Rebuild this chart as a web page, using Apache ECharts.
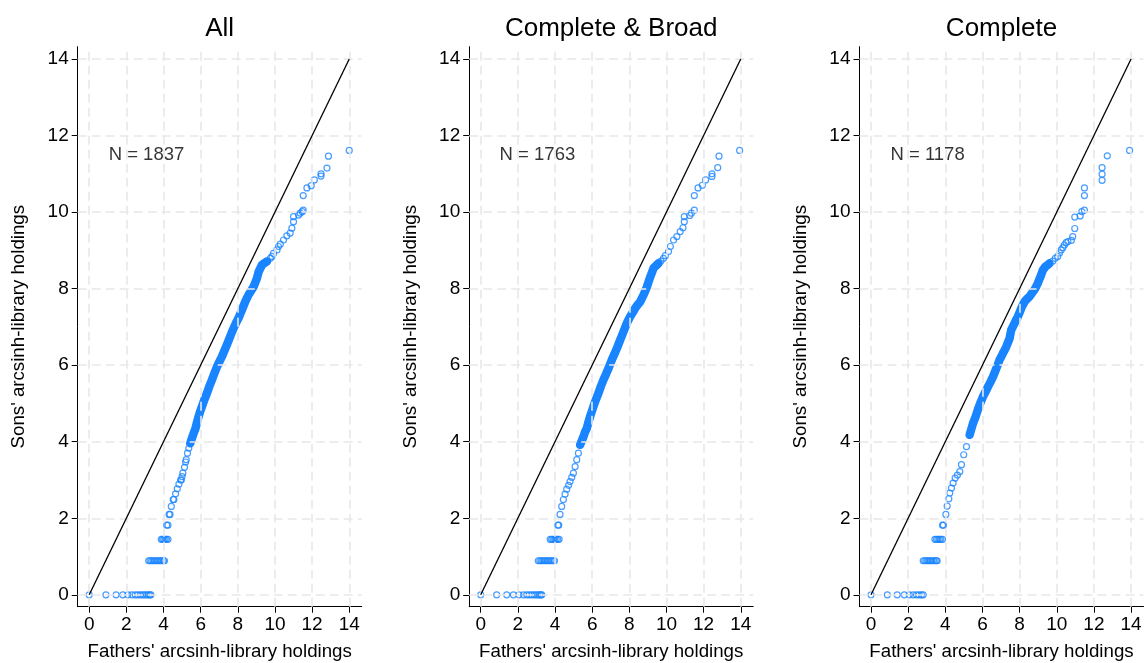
<!DOCTYPE html>
<html>
<head>
<meta charset="utf-8">
<script src="https://cdn.jsdelivr.net/npm/echarts@6/dist/echarts.min.js"></script>
<style>
html,body{margin:0;padding:0;background:#fff;}
#chart{width:1145px;height:663px;}
</style>
</head>
<body>
<div id="chart"></div>
<script>
// ---------- data ----------
const titles = ["All", "Complete & Broad", "Complete"];
const sampleSizes = [1837, 1763, 1178];
const tickValues = [0, 2, 4, 6, 8, 10, 12, 14];
const xTitle = "Fathers' arcsinh-library holdings";
const yTitle = "Sons' arcsinh-library holdings";
const refLine = [[0, 0], [14, 14]];

// Panel 1: All
const allFathers = [0,0.9,1.45,1.81,2.08,2.3,2.48,2.62,2.75,2.87,2.98,3.09,3.19,3.27,3.32,
  3.2,3.28,3.36,3.44,3.52,3.6,3.68,3.76,3.84,3.92,4.0,4.05,
  3.88,3.95,4.02,4.09,4.16,4.24,
  4.17,4.24,4.3,4.35,4.42,4.52,4.56,4.65,4.74,4.83,4.92,4.96,5.0,5.04,5.13,5.19,5.22,5.29,
  5.36,5.44,5.53,5.62,5.71,5.80,5.89,5.98,6.07,6.20,6.34,6.47,6.61,6.75,6.88,7.01,7.14,7.28,7.41,7.50,
  7.59,7.68,7.77,7.90,8.04,8.13,8.22,8.31,8.40,8.49,8.58,8.71,8.85,8.94,9.03,9.12,9.21,9.30,9.44,9.57,
  9.75,9.84,9.92,10.11,10.19,10.29,10.46,10.64,10.82,10.91,11.0,11.0,11.27,11.36,11.47,11.52,11.52,
  11.72,11.95,12.12,12.48,12.48,12.8,12.88,14.0];
const allSons = [0,0,0,0,0,0,0,0,0,0,0,0,0,0,0,
  0.89,0.89,0.89,0.89,0.89,0.89,0.89,0.89,0.89,0.89,0.89,0.89,
  1.45,1.45,1.45,1.45,1.45,1.45,
  1.82,1.82,2.10,2.10,2.31,2.49,2.49,2.64,2.77,2.89,3.0,3.0,3.09,3.18,3.33,3.47,3.53,3.70,
  3.83,3.96,4.09,4.22,4.33,4.50,4.66,4.80,4.92,5.10,5.27,5.45,5.62,5.80,5.96,6.09,6.22,6.38,6.53,6.64,
  6.75,6.86,6.96,7.10,7.23,7.34,7.44,7.55,7.66,7.75,7.84,7.94,8.05,8.16,8.27,8.44,8.53,8.62,8.67,8.71,
  8.79,8.84,8.92,9.01,9.10,9.16,9.27,9.38,9.45,9.58,9.75,9.88,9.92,9.97,10.01,10.05,10.43,
  10.63,10.69,10.84,10.94,11.0,11.15,11.46,11.61];

// Panel 2: Complete & Broad
const broadFathers = [0,0.86,1.40,1.76,2.06,2.30,2.48,2.62,2.75,2.87,2.98,3.08,3.17,3.24,3.29,
  3.1,3.18,3.26,3.34,3.42,3.5,3.58,3.66,3.74,3.82,3.9,3.97,
  3.74,3.82,3.9,3.98,4.06,4.14,4.22,
  4.15,4.2,4.27,4.36,4.45,4.54,4.63,4.73,4.81,4.90,4.99,5.08,5.17,5.26,5.35,5.53,
  5.62,5.71,5.80,5.89,5.98,6.07,6.20,6.34,6.47,6.61,6.75,6.88,6.97,7.06,7.20,7.33,7.42,7.51,7.60,7.69,
  7.78,7.87,7.96,8.05,8.19,8.32,8.45,8.59,8.68,8.77,8.86,8.95,9.04,9.13,9.22,9.30,9.44,9.57,9.70,9.84,
  9.94,10.11,10.21,10.38,10.56,10.74,10.89,10.96,10.96,11.25,11.34,11.50,11.50,11.70,11.93,12.11,
  12.45,12.45,12.76,12.83,13.94];
const broadSons = [0,0,0,0,0,0,0,0,0,0,0,0,0,0,0,
  0.89,0.89,0.89,0.89,0.89,0.89,0.89,0.89,0.89,0.89,0.89,0.89,
  1.45,1.45,1.45,1.45,1.45,1.45,1.45,
  1.82,1.82,2.10,2.31,2.49,2.63,2.76,2.86,2.96,3.07,3.18,3.35,3.53,3.70,3.92,4.13,
  4.26,4.35,4.51,4.66,4.79,4.92,5.10,5.27,5.45,5.62,5.77,5.92,6.03,6.14,6.29,6.44,6.55,6.66,6.77,6.88,
  6.99,7.10,7.19,7.27,7.38,7.49,7.58,7.66,7.75,7.84,7.94,8.05,8.18,8.31,8.42,8.53,8.60,8.66,8.72,8.79,
  8.86,8.97,9.10,9.27,9.36,9.49,9.59,9.75,9.88,9.91,9.97,10.05,10.43,10.63,10.70,10.84,
  10.93,11.0,11.16,11.46,11.61];

// Panel 3: Complete
const completeFathers = [0,0.88,1.41,1.79,2.06,2.27,2.45,2.59,2.72,2.81,
  2.81,2.89,2.97,3.05,3.13,3.21,3.29,3.37,3.45,3.52,3.56,
  3.44,3.52,3.6,3.68,3.76,3.85,
  3.85,3.9,4.03,4.10,4.19,4.24,4.33,4.42,4.53,4.65,4.78,4.87,4.99,5.14,5.31,5.49,
  5.62,5.76,5.90,6.03,6.17,6.30,6.44,6.57,6.66,6.75,6.84,6.92,7.01,7.10,7.19,7.28,7.37,7.46,7.50,7.55,
  7.64,7.73,7.82,7.91,8.00,8.09,8.18,8.27,8.40,8.53,8.66,8.80,8.89,8.98,9.07,9.16,9.25,9.38,9.52,9.61,
  9.79,9.92,10.05,10.15,10.24,10.33,10.41,10.50,10.60,10.78,10.86,10.97,10.97,11.26,11.35,11.49,
  11.49,11.49,12.44,12.44,12.44,12.72,13.92];
const completeSons = [0,0,0,0,0,0,0,0,0,0,
  0.89,0.89,0.89,0.89,0.89,0.89,0.89,0.89,0.89,0.89,0.89,
  1.45,1.45,1.45,1.45,1.45,1.45,
  1.82,1.82,2.10,2.32,2.51,2.66,2.79,2.92,3.05,3.13,3.22,3.40,3.66,3.87,4.18,4.48,
  4.64,4.85,5.03,5.18,5.31,5.44,5.57,5.70,5.81,5.92,6.03,6.14,6.22,6.31,6.39,6.48,6.59,6.70,6.80,6.92,
  7.01,7.10,7.19,7.27,7.38,7.49,7.58,7.66,7.73,7.79,7.88,7.97,8.05,8.14,8.25,8.36,8.48,8.57,8.62,8.66,
  8.72,8.79,8.84,8.93,9.01,9.07,9.14,9.20,9.23,9.26,9.36,9.57,9.87,9.90,10.01,10.05,
  10.43,10.63,10.83,10.99,11.16,11.47,11.61];

// sons' range (per panel) where markers merge into a solid band
const bandLow = [3.9, 3.9, 4.15];
const bandHigh = [8.72, 8.66, 8.7];
// position of the "N = ..." note (data coordinates)
const noteAt = [[1.02, 11.49], [0.99, 11.49], [1.02, 11.49]];

// ---------- chart ----------
const fathersList = [allFathers, broadFathers, completeFathers];
const sonsList = [allSons, broadSons, completeSons];
const FONT = "'Liberation Sans', Arial, sans-serif";
const BLUE = '#1a85ff';
const gridLefts = [77.7, 469.2, 859.5];
const GW = 284, GT = 46.7, GH = 560;

const grids = [], xAxes = [], yAxes = [], series = [], graphics = [];
for (let i = 0; i < 3; i++) {
  grids.push({left: gridLefts[i], top: GT, width: GW, height: GH, containLabel: false, outerBoundsMode: 'none'});
  xAxes.push({
    type: 'value', gridIndex: i, min: -0.62, max: 14.67,
    name: xTitle, nameLocation: 'middle', nameGap: 36,
    nameTextStyle: {fontFamily: FONT, fontSize: 18.7, color: '#000'},
    axisLine: {show: true, onZero: false, lineStyle: {color: '#000', width: 1}},
    axisTick: {show: true, length: 6, customValues: tickValues, lineStyle: {color: '#000', width: 1}},
    axisLabel: {show: true, customValues: tickValues, margin: 9, fontFamily: FONT, fontSize: 19, color: '#000'},
    splitLine: {show: false}
  });
  yAxes.push({
    type: 'value', gridIndex: i, min: -0.31, max: 14.32,
    name: yTitle, nameLocation: 'middle', nameGap: 49,
    nameTextStyle: {fontFamily: FONT, fontSize: 18.7, color: '#000'},
    axisLine: {show: true, onZero: false, lineStyle: {color: '#000', width: 1}},
    axisTick: {show: true, length: 6, customValues: tickValues, lineStyle: {color: '#000', width: 1}},
    axisLabel: {show: true, customValues: tickValues, margin: 9, fontFamily: FONT, fontSize: 19, color: '#000'},
    splitLine: {show: false}
  });
  const pts = fathersList[i].map((f, k) => [f, sonsList[i][k]]);
  const band = pts.filter(p => p[1] >= bandLow[i] && p[1] <= bandHigh[i]);
  const gridLines = tickValues.map(v => ({xAxis: v})).concat(tickValues.map(v => ({yAxis: v})));
  // note + grid lines (behind everything)
  series.push({
    type: 'scatter', xAxisIndex: i, yAxisIndex: i, z: 1, silent: true,
    data: [noteAt[i]], symbolSize: 1, itemStyle: {color: 'rgba(0,0,0,0)'},
    label: {show: true, position: 'right', distance: 0, formatter: 'N = ' + sampleSizes[i],
      fontFamily: FONT, fontSize: 18.5, color: '#000'},
    markLine: {silent: true, symbol: ['none', 'none'], animation: false,
      label: {show: false},
      lineStyle: {color: '#e8e8e8', width: 1.6, type: [9, 5]},
      emphasis: {disabled: true},
      data: gridLines}
  });
  // dense part of the quantile curve
  series.push({
    type: 'line', xAxisIndex: i, yAxisIndex: i, z: 3, silent: true,
    data: band, showSymbol: false, symbol: 'none',
    lineStyle: {color: BLUE, width: 8.5, cap: 'round', join: 'round'}
  });
  // quantile points
  series.push({
    type: 'scatter', xAxisIndex: i, yAxisIndex: i, z: 4, silent: true,
    data: pts, symbol: 'circle', symbolSize: 6,
    itemStyle: {color: 'rgba(255,255,255,0)', borderColor: BLUE, borderWidth: 1.2}
  });
  // 45-degree reference line
  series.push({
    type: 'line', xAxisIndex: i, yAxisIndex: i, z: 5, silent: true,
    data: refLine, showSymbol: false, symbol: 'none',
    lineStyle: {color: '#000', width: 1.3}
  });
  graphics.push({
    type: 'text', x: gridLefts[i] + GW / 2, y: 28.5,
    style: {text: titles[i], font: '26px ' + FONT, fill: '#000', textAlign: 'center', textVerticalAlign: 'middle'}
  });
}

const chart = echarts.init(document.getElementById('chart'), null, {renderer: 'canvas'});
chart.setOption({
  animation: false,
  backgroundColor: '#fff',
  grid: grids, xAxis: xAxes, yAxis: yAxes, series: series, graphic: graphics
});
</script>
</body>
</html>
